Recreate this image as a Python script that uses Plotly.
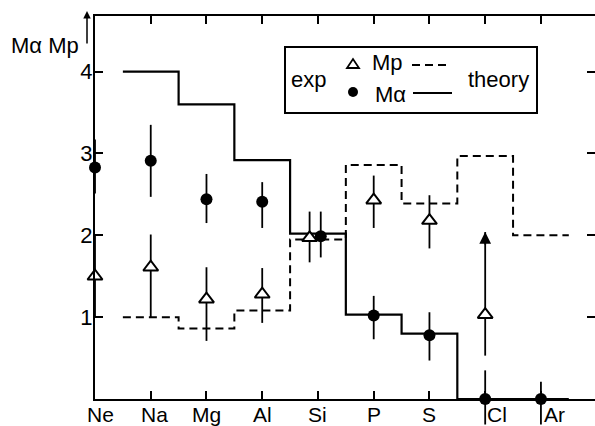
import plotly.graph_objects as go

# ---------------- data ----------------
elements = ["Ne", "Na", "Mg", "Al", "Si", "P", "S", "Cl", "Ar"]

# experimental M_alpha (filled circles)
ma_exp = [2.83, 2.91, 2.44, 2.41, 1.99, 1.02, 0.78, 0.0, 0.0]
ma_err_up = [0.34, 0.44, 0.31, 0.24, 0.30, 0.24, 0.28, 0.35, 0.21]
ma_err_dn = [0.32, 0.44, 0.29, 0.32, 0.26, 0.29, 0.31, 0.33, 0.33]

# experimental M_p (open triangles); Ar has no value
mp_exp = [1.50, 1.61, 1.22, 1.28, 1.97, 2.43, 2.18, 1.03, None]
mp_err_up = [0.50, 0.40, 0.39, 0.32, 0.32, 0.30, 0.31, 1.01, 0]
mp_err_dn = [0.50, 0.61, 0.51, 0.35, 0.30, 0.34, 0.34, 0.50, 0]
mp_lower_limit = "Cl"   # arrow: lower limit only

# small horizontal offsets of the Si points (overlapping in the original)
ma_shift = {"Si": 0.05}
mp_shift = {"Si": -0.15}

# theory step values (Na .. Ar)
theory_elements = ["Na", "Mg", "Al", "Si", "P", "S", "Cl", "Ar"]
ma_theory = [4.00, 3.60, 2.92, 2.02, 1.03, 0.80, 0.0, 0.0]
mp_theory = [1.00, 0.86, 1.08, 1.95, 2.86, 2.39, 2.97, 2.00]

y_ticks = [1, 2, 3, 4]
y_tick_text = ["1", "2", "3", "4"]

# ---------------- geometry helpers ----------------
W, H = 595, 426
L, R, T, B = 95, 0, 16, 27
PW, PH = W - L - R, H - T - B


def px(x):
    return (x - L) / PW


def py(y):
    return (H - B - y) / PH


FONT = "Liberation Sans, Arial, sans-serif"
idx = {e: i for i, e in enumerate(elements)}

ma_x = [idx[e] + ma_shift.get(e, 0) for e in elements]
mp_x = [idx[e] + mp_shift.get(e, 0) for e in elements]

th_x = [idx[e] - 0.5 for e in theory_elements] + [idx[theory_elements[-1]] + 0.5]
ma_th_y = ma_theory + [ma_theory[-1]]
mp_th_y = mp_theory + [mp_theory[-1]]

fig = go.Figure()

fig.add_trace(go.Scatter(
    x=th_x, y=mp_th_y, mode="lines", line_shape="hv",
    line=dict(color="black", width=2, dash="8px,5px"),
    showlegend=False, hoverinfo="skip", cliponaxis=False))
fig.add_trace(go.Scatter(
    x=th_x, y=ma_th_y, mode="lines", line_shape="hv",
    line=dict(color="black", width=2.2),
    showlegend=False, hoverinfo="skip", cliponaxis=False))

fig.add_trace(go.Scatter(
    x=mp_x, y=mp_exp, mode="markers",
    marker=dict(symbol="triangle-up", size=13, color="white",
                line=dict(color="black", width=2)),
    error_y=dict(type="data", array=mp_err_up, arrayminus=mp_err_dn,
                 symmetric=False, width=0, thickness=1.8, color="black"),
    showlegend=False, cliponaxis=False))
fig.add_trace(go.Scatter(
    x=ma_x, y=ma_exp, mode="markers",
    marker=dict(symbol="circle", size=12, color="black"),
    error_y=dict(type="data", array=ma_err_up, arrayminus=ma_err_dn,
                 symmetric=False, width=0, thickness=1.8, color="black"),
    showlegend=False, cliponaxis=False))

# invisible trace for the right-hand tick axis
fig.add_trace(go.Scatter(x=[0], y=[0], yaxis="y2", mode="markers",
                         marker=dict(opacity=0), showlegend=False,
                         hoverinfo="skip"))

# error-bar parts that run below the x axis (not clipped)
for i, e in enumerate(elements):
    low = ma_exp[i] - ma_err_dn[i]
    if low < 0:
        fig.add_annotation(x=ma_x[i], y=0, xref="x", yref="y", text="",
                           showarrow=True, arrowhead=0, arrowwidth=1.8,
                           arrowcolor="black", axref="x", ayref="y",
                           ax=ma_x[i], ay=low, standoff=0, startstandoff=0)

# arrow for lower-limit
i_ll = idx[mp_lower_limit]
top_ll = mp_exp[i_ll] + mp_err_up[i_ll]
fig.add_annotation(x=mp_x[i_ll], y=top_ll, xref="x", yref="y", text="",
                   showarrow=True, arrowhead=2, arrowsize=1.3, arrowwidth=1.8,
                   arrowcolor="black", ax=0, ay=14)

# x category labels (placed under the ticks)
label_shift = {"Ne": 5, "Na": 4, "Cl": 12, "Ar": 14}
for e in elements:
    fig.add_annotation(x=idx[e], y=0, xref="x", yref="paper", text=e,
                       showarrow=False, yanchor="top", yshift=-2,
                       xshift=label_shift.get(e, 0),
                       font=dict(family=FONT, size=21, color="black"))

# y axis title
fig.add_annotation(x=px(9), y=py(45), xref="paper", yref="paper",
                   text="Mα Mp", showarrow=False, xanchor="left",
                   yanchor="middle", font=dict(family=FONT, size=22, color="black"))
# small up arrow next to the y axis
fig.add_annotation(x=px(87), y=py(11), xref="paper", yref="paper", text="",
                   showarrow=True, arrowhead=2, arrowsize=1, arrowwidth=1.5,
                   arrowcolor="black", ax=0, ay=34)

# legend box
shapes = [
    dict(type="rect", xref="paper", yref="paper", x0=px(285), x1=px(537),
         y0=py(113), y1=py(47), line=dict(color="black", width=2)),
    dict(type="line", xref="paper", yref="paper", x0=px(412), x1=px(451),
         y0=py(65), y1=py(65), line=dict(color="black", width=2, dash="8px,5px")),
    dict(type="line", xref="paper", yref="paper", x0=px(413), x1=px(452),
         y0=py(93), y1=py(93), line=dict(color="black", width=2)),
    dict(type="circle", xref="paper", yref="paper", x0=px(348), x1=px(358),
         y0=py(97), y1=py(87), fillcolor="black", line=dict(color="black", width=0)),
    dict(type="path", xref="paper", yref="paper",
         path=f"M {px(347)} {py(68)} L {px(359)} {py(68)} L {px(353)} {py(59)} Z",
         fillcolor="white", line=dict(color="black", width=1.8)),
]
fig.update_layout(shapes=shapes)

for txt, cx, cy in [("exp", 308, 80), ("Mp", 387, 62), ("Mα", 390, 94),
                    ("theory", 498, 80)]:
    fig.add_annotation(x=px(cx), y=py(cy), xref="paper", yref="paper",
                       text=txt, showarrow=False, xanchor="center",
                       yanchor="middle",
                       font=dict(family=FONT, size=22, color="black"))

fig.update_layout(
    width=W, height=H,
    margin=dict(l=L, r=R, t=T, b=B, pad=0),
    paper_bgcolor="white", plot_bgcolor="white",
    font=dict(family=FONT, size=22, color="black"),
    xaxis=dict(range=[0, 8.97], tickvals=list(range(len(elements))),
               showticklabels=False, ticks="inside", ticklen=8,
               tickwidth=1.8, tickcolor="black", showline=True,
               linecolor="black", linewidth=2, mirror="ticks",
               showgrid=False, zeroline=False, fixedrange=True),
    yaxis=dict(range=[0, 4.68], tickvals=y_ticks, ticktext=y_tick_text,
               ticks="inside", ticklen=8, tickwidth=1.8, tickcolor="black",
               showline=True, linecolor="black", linewidth=2,
               showgrid=False, zeroline=False, ticklabelstandoff=-4,
               tickfont=dict(family=FONT, size=22, color="black")),
    yaxis2=dict(range=[0, 4.68], overlaying="y", side="right",
                tickvals=y_ticks, showticklabels=False, ticks="inside",
                ticklen=8, tickwidth=1.8, tickcolor="black",
                showline=False, showgrid=False, zeroline=False),
)

fig.write_html("out.html")
